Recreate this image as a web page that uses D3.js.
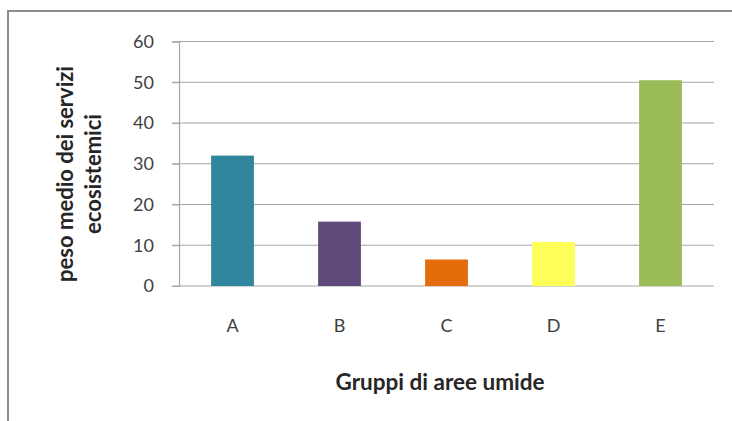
<!DOCTYPE html>
<html><head><meta charset="utf-8">
<script src="https://cdn.jsdelivr.net/npm/d3@7"></script>
<style>body{margin:0;background:#fff}svg{display:block}text{font-family:Lato,"Open Sans",sans-serif}</style>
</head><body><svg id="c" width="732" height="421"></svg>
<script>
const categories = ["A","B","C","D","E"];
const values = [32, 15.8, 6.5, 10.8, 50.5];
const colors = ["#31859C","#604A7B","#E46C0A","#FFFF5A","#9BBB59"];
const yTicks = [0,10,20,30,40,50,60];
const xTitle = "Gruppi di aree umide";
const yTitle = ["peso medio dei servizi","ecosistemici"];

const svg = d3.select("#c");
svg.append("path").attr("d","M8,421V11H732").attr("fill","none").attr("stroke","#8c8c8c").attr("stroke-width",2);

const pL=179, pR=714, pT=41.5, pB=286;
const x = d3.scaleBand().domain(categories).range([pL,pR]).paddingInner(0.6).paddingOuter(0.3);
const y = d3.scaleLinear().domain([0,60]).range([pB,pT]);

svg.append("g").selectAll("line").data(yTicks).join("line")
  .attr("x1",172).attr("x2",pR).attr("y1",d=>y(d)).attr("y2",d=>y(d))
  .attr("stroke","#a6a6a6").attr("stroke-width",1.2);

const ya = svg.append("g").attr("transform",`translate(${pL},0)`)
  .call(d3.axisLeft(y).tickValues(yTicks).tickSize(7).tickPadding(18));
ya.select(".domain").attr("stroke","#a6a6a6").attr("stroke-width",1.2);
ya.selectAll(".tick line").attr("stroke","#a6a6a6");
ya.selectAll("text").attr("font-size",18).attr("fill","#404040").attr("font-family","Lato,sans-serif");

svg.append("g").selectAll("rect").data(values).join("rect")
  .attr("x",(d,i)=>x(categories[i])).attr("width",x.bandwidth())
  .attr("y",d=>y(d)).attr("height",d=>y(0)-y(d))
  .attr("fill",(d,i)=>colors[i]);

const xa = svg.append("g").attr("transform",`translate(0,${pB})`)
  .call(d3.axisBottom(x).tickSize(0).tickPadding(33));
xa.select(".domain").remove();
xa.selectAll("text").attr("font-size",18).attr("fill","#404040").attr("font-family","Lato,sans-serif");

svg.append("text").attr("x",440).attr("y",390).attr("text-anchor","middle")
  .attr("font-size",22.5).attr("font-weight","bold").attr("fill","#262626").text(xTitle);

const yt = svg.append("text").attr("transform","translate(73,174) rotate(-90)")
  .attr("text-anchor","middle").attr("font-size",22).attr("font-weight","bold").attr("fill","#262626");
yTitle.forEach((t,i)=>yt.append("tspan").attr("x",0).attr("dy",i?28:0).text(t));
</script></body></html>
